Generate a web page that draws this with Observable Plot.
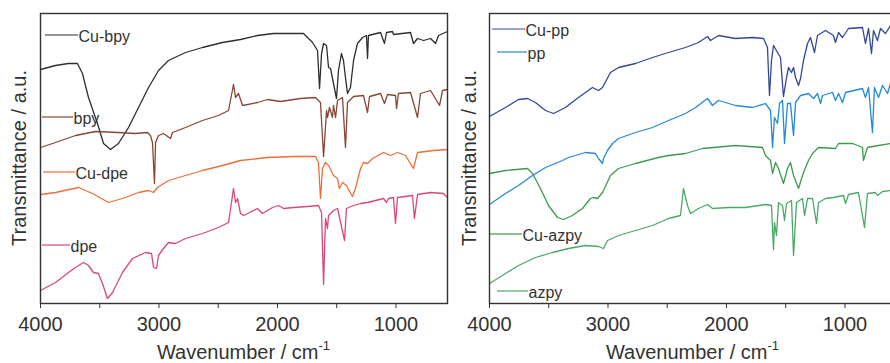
<!DOCTYPE html>
<html><head><meta charset="utf-8">
<script src="https://cdn.jsdelivr.net/npm/d3@7"></script>
<script src="https://cdn.jsdelivr.net/npm/@observablehq/plot@0.6"></script>
<style>
html,body{margin:0;padding:0;background:#fff;overflow:hidden;}
#wrap{position:relative;width:890px;height:363px;overflow:hidden;background:#fff;}
.panel{position:absolute;top:0;}
</style></head><body><div id="wrap"></div>
<script>
// ---- data: [wavenumber (cm-1), transmittance (a.u., offset)] ----
const cuBpy = [[4000,234],[3873,238],[3764,240],[3688,240],[3646,230],[3595,206],[3519,180],[3468,160],[3409,154],[3342,160],[3257,176],[3173,196],[3088,216],[3004,233],[2920,243],[2776,251],[2633,256],[2464,261],[2312,264],[2169,268],[2034,270],[1780,270],[1704,261],[1662,253],[1645,215],[1628,250],[1611,260],[1586,258],[1569,236],[1552,235],[1527,220],[1502,205],[1485,233],[1460,250],[1443,243],[1426,226],[1409,210],[1384,216],[1358,243],[1325,260],[1282,266],[1249,268],[1240,245],[1232,268],[1130,271],[1097,260],[1080,271],[1029,272],[1021,269],[877,271],[852,260],[818,265],[767,263],[708,265],[666,260],[641,268],[565,272]];
const bpy = [[4000,156],[3873,161],[3705,168],[3536,172],[3342,171],[3198,170],[3097,171],[3072,168],[3055,161],[3038,120],[3029,161],[3004,168],[2962,170],[2903,165],[2886,171],[2776,176],[2633,183],[2498,188],[2413,193],[2371,219],[2354,206],[2329,210],[2295,198],[2169,201],[2084,204],[1974,202],[1806,205],[1679,206],[1637,201],[1611,147],[1586,193],[1578,186],[1561,196],[1536,186],[1527,198],[1510,186],[1493,203],[1451,206],[1426,156],[1409,201],[1358,207],[1274,208],[1240,191],[1223,207],[1130,210],[1097,200],[1071,209],[1004,208],[995,195],[979,210],[877,211],[818,186],[793,210],[708,213],[632,198],[607,213],[565,214]];
const cuDpe = [[4000,109],[3873,111],[3679,116],[3561,110],[3426,101],[3283,106],[3173,111],[3088,113],[3046,111],[3013,116],[2920,123],[2776,128],[2633,133],[2464,138],[2312,143],[2084,146],[1865,147],[1679,147],[1654,141],[1637,105],[1620,135],[1595,141],[1569,138],[1527,128],[1493,125],[1477,115],[1451,121],[1418,118],[1367,107],[1342,115],[1299,135],[1274,141],[1240,140],[1198,145],[1105,151],[1046,148],[987,151],[920,148],[852,135],[818,151],[683,153],[565,154]];
const dpe = [[4000,13],[3873,21],[3764,31],[3705,36],[3637,41],[3595,38],[3553,31],[3511,30],[3477,20],[3435,5],[3392,11],[3308,31],[3224,45],[3114,51],[3063,50],[3046,36],[3021,35],[3004,48],[2962,55],[2920,61],[2861,60],[2776,65],[2633,70],[2498,76],[2413,81],[2371,115],[2354,101],[2337,105],[2312,90],[2287,88],[2253,90],[2169,95],[2127,90],[2042,96],[1991,98],[1949,95],[1865,96],[1747,97],[1654,98],[1628,91],[1611,19],[1595,85],[1578,75],[1569,88],[1527,93],[1493,95],[1434,63],[1418,95],[1358,98],[1299,100],[1240,101],[1105,105],[1080,101],[1063,105],[1021,106],[1004,80],[987,106],[860,108],[844,85],[818,109],[708,111],[599,110],[565,106]];
const cuPp = [[4000,187],[3865,196],[3755,204],[3679,205],[3612,201],[3527,193],[3460,190],[3359,196],[3249,206],[3131,216],[3080,213],[3046,216],[2979,231],[2911,236],[2768,240],[2624,246],[2489,251],[2346,256],[2236,261],[2160,267],[2135,263],[2067,268],[1924,265],[1780,266],[1687,265],[1654,256],[1637,208],[1620,243],[1603,258],[1569,251],[1544,246],[1519,207],[1493,226],[1476,236],[1451,231],[1434,236],[1417,226],[1392,218],[1375,225],[1350,243],[1316,260],[1291,266],[1257,251],[1232,268],[1164,273],[1097,268],[1080,261],[1054,271],[1021,266],[970,275],[852,276],[827,260],[801,275],[776,250],[759,273],[726,263],[700,275],[658,270],[616,278],[565,280]];
const pp = [[4000,99],[3865,110],[3755,118],[3637,128],[3527,136],[3384,143],[3333,146],[3190,151],[3105,150],[3080,145],[3046,140],[3038,145],[3004,153],[2962,160],[2911,165],[2768,171],[2624,176],[2489,183],[2346,190],[2261,196],[2160,205],[2118,198],[2067,203],[1924,198],[1780,196],[1671,200],[1628,193],[1611,156],[1595,186],[1569,180],[1552,200],[1527,203],[1510,160],[1485,200],[1460,200],[1434,168],[1417,201],[1375,208],[1308,210],[1265,205],[1232,210],[1206,200],[1190,208],[1105,211],[1080,203],[1054,210],[1021,201],[995,211],[852,215],[827,206],[801,216],[768,171],[751,216],[717,206],[683,218],[641,210],[616,220],[565,222]];
const cuAzpy = [[4000,130],[3865,133],[3679,135],[3637,130],[3570,115],[3502,98],[3426,86],[3375,84],[3300,88],[3215,95],[3148,105],[3122,106],[3088,105],[3046,111],[2979,128],[2911,135],[2768,140],[2574,146],[2489,148],[2346,150],[2202,155],[1924,158],[1696,156],[1671,148],[1628,143],[1611,130],[1586,141],[1561,135],[1519,120],[1485,135],[1460,141],[1434,128],[1392,115],[1350,131],[1308,143],[1274,150],[1223,156],[1080,155],[1054,160],[936,160],[852,156],[844,143],[810,156],[717,158],[616,160],[565,161]];
const azpy = [[4000,20],[3865,30],[3755,38],[3612,46],[3468,51],[3333,55],[3190,58],[3080,57],[3038,55],[3004,63],[2911,68],[2768,73],[2624,78],[2489,85],[2388,88],[2363,115],[2329,98],[2304,90],[2236,95],[2160,99],[2118,95],[1983,96],[1839,96],[1671,99],[1620,98],[1603,54],[1595,81],[1578,68],[1561,101],[1527,98],[1510,83],[1493,100],[1451,103],[1434,48],[1409,101],[1358,105],[1341,88],[1316,105],[1274,105],[1240,80],[1223,101],[1164,105],[1097,106],[1012,108],[995,100],[970,109],[886,111],[835,76],[810,110],[742,111],[726,108],[683,112],[616,113],[565,114]];

const xTicks = [4000, 3500, 3000, 2500, 2000, 1500, 1000];
const xLabel = "Wavenumber / cm";
const xLabelSup = "-1";
const yLabel = "Transmittance / a.u.";

const leftSeries = [
  {name: "Cu-bpy", color: "#2e2e2e", data: cuBpy},
  {name: "bpy", color: "#874636", data: bpy},
  {name: "Cu-dpe", color: "#ea7038", data: cuDpe},
  {name: "dpe", color: "#d9477c", data: dpe}
];
const rightSeries = [
  {name: "Cu-pp", color: "#324896", data: cuPp},
  {name: "pp", color: "#2689d6", data: pp},
  {name: "Cu-azpy", color: "#3f9a4f", data: cuAzpy},
  {name: "azpy", color: "#4aa968", data: azpy}
];

// legend layout (svg px): line start, line end, line y
const leftLegend = {"Cu-bpy": [45, 78, 35], "bpy": [42, 73, 117], "Cu-dpe": [43, 75, 172], "dpe": [42, 70, 245]};
const rightLegend = {"Cu-pp": [42, 75, 29], "pp": [47, 77, 52], "Cu-azpy": [40, 72, 234], "azpy": [47, 78, 291]};

const FONT = "'Liberation Sans', Arial, Helvetica, sans-serif";
const INK = "#333";

function makePanel(list, legend, mLeft, mRight, left) {
  const rows = list.flatMap(s => s.data.map(([wn, t]) => ({wn, t, name: s.name})));
  const svg = Plot.plot({
    width: 450, height: 363,
    marginTop: 13, marginBottom: 60, marginLeft: mLeft, marginRight: mRight,
    style: {fontFamily: FONT, fontSize: "20px", color: INK, background: "transparent", overflow: "visible"},
    x: {domain: [4000, 565]},
    y: {domain: [0, 290], axis: null},
    color: {domain: list.map(s => s.name), range: list.map(s => s.color)},
    marks: [
      Plot.axisX({ticks: xTicks, tickFormat: d => d % 1000 === 0 ? String(d) : "", tickSize: 5, tickPadding: 8, label: null, fontSize: 20}),
      Plot.line(rows, {x: "wn", y: "t", z: "name", stroke: "name", strokeWidth: 1.3}),
      Plot.frame({stroke: INK, strokeWidth: 1.4})
    ]
  });
  const s = d3.select(svg);
  const plotLeft = mLeft, plotRight = 450 - mRight;
  // y label
  s.append("text")
    .attr("transform", "translate(26,158) rotate(-90)")
    .attr("text-anchor", "middle")
    .attr("fill", INK).style("font-size", "20px").style("font-family", FONT)
    .text(yLabel);
  // x label with superscript
  const xl = s.append("text")
    .attr("x", (plotLeft + plotRight) / 2).attr("y", 359)
    .attr("text-anchor", "middle")
    .attr("fill", INK).style("font-size", "20px").style("font-family", FONT);
  xl.append("tspan").text(xLabel);
  xl.append("tspan").attr("dy", -9).style("font-size", "13px").text(xLabelSup);
  // legend labels next to curves
  for (const ser of list) {
    const [x0, x1, y] = legend[ser.name];
    s.append("line").attr("x1", x0).attr("x2", x1).attr("y1", y).attr("y2", y)
      .attr("stroke", ser.color).attr("stroke-width", 1.2);
    s.append("text").attr("x", x1 + 0.5).attr("y", y + 6.5)
      .attr("text-anchor", "start")
      .attr("fill", INK).style("font-size", "16px").style("font-family", FONT)
      .text(ser.name);
  }
  svg.classList.add("panel");
  svg.style.left = left + "px";
  return svg;
}

const wrap = document.getElementById("wrap");
wrap.appendChild(makePanel(leftSeries, leftLegend, 40, 3, 0));
wrap.appendChild(makePanel(rightSeries, rightLegend, 39, 4, 450));
</script></body></html>
